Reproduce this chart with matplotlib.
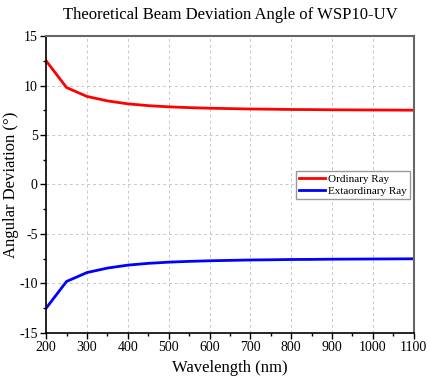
# theoretical beam deviation angle of the WSP10-UV polarizer
import numpy as np
from matplotlib import pyplot as plt
from matplotlib.ticker import MultipleLocator

wavelength = [200, 250, 300, 350, 400, 450, 500, 550, 600, 650,
              700, 750, 800, 850, 900, 950, 1000, 1050, 1100]
ordinary = [12.5, 9.8, 8.9, 8.45, 8.15, 7.97, 7.85, 7.77, 7.71, 7.67,
            7.63, 7.61, 7.58, 7.57, 7.55, 7.54, 7.53, 7.52, 7.51]
extraordinary = [-v for v in ordinary]

plt.rcParams["font.family"] = ["Liberation Serif", "DejaVu Serif"]
plt.rcParams["axes.unicode_minus"] = False

fig = plt.figure(figsize=(4.31, 3.88), dpi=100)
ax = fig.add_axes([0.107, 0.142, 0.853, 0.765])

ax.plot(wavelength, ordinary, "r-", lw=2, label="Ordinary Ray")
ax.plot(wavelength, extraordinary, "b-", lw=2, label="Extaordinary Ray")

ax.set_xlim([200, 1100])
ax.set_ylim([-15, 15])
ax.xaxis.set_major_locator(MultipleLocator(100))
ax.xaxis.set_minor_locator(MultipleLocator(50))
ax.yaxis.set_major_locator(MultipleLocator(5))
ax.yaxis.set_minor_locator(MultipleLocator(2.5))
ax.grid(True, which="major", ls=(0, (3, 3)), color="#c8c8c8", lw=0.7)

ax.tick_params(which="major", direction="out", length=4, width=1, labelsize=10, pad=2)
ax.tick_params(which="minor", direction="out", length=2.5, width=1)
ax.tick_params(top=False, right=False, which="both")
for side in ["left", "bottom"]:
    ax.spines[side].set_color("black")
    ax.spines[side].set_linewidth(1.2)
for side in ["top", "right"]:
    ax.spines[side].set_color("#666666")
    ax.spines[side].set_linewidth(1.5)

ax.set_xlabel("Wavelength (nm)", fontsize=12, labelpad=4)
ax.set_ylabel("Angular Deviation (°)", fontsize=12, labelpad=0)
ax.set_title("Theoretical Beam Deviation Angle of WSP10-UV", fontsize=12, pad=12)

ax.legend(loc="upper left", bbox_to_anchor=(0.68, 0.545), fontsize=8,
          frameon=True, fancybox=False, edgecolor="#999999", framealpha=1,
          handlelength=2.3, handletextpad=0.3, borderpad=0.3,
          labelspacing=0.15, borderaxespad=0)

fig.savefig("out.png", dpi=100)
